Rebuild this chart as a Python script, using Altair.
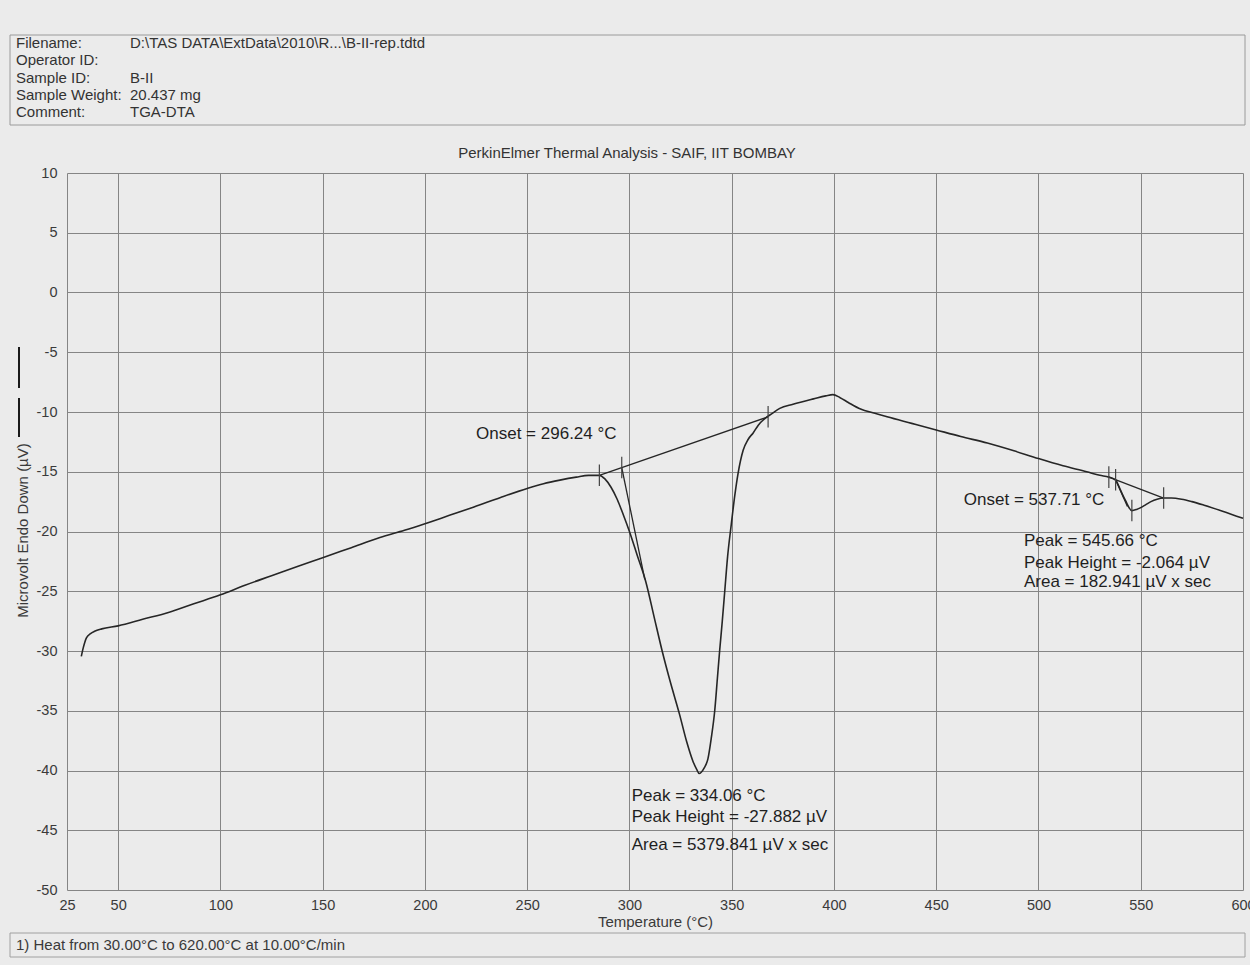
import altair as alt
import pandas as pd

FONT = "Liberation Sans"

# DTA trace: temperature (°C) vs heat-flow signal (µV)
temperature = [32, 33, 34.5, 36.5, 38.5, 42, 50, 62, 75, 87, 100, 112, 125, 138, 150,
               164, 178, 190, 200, 212, 224, 237, 250, 258, 266, 274, 280, 285.3, 288,
               291, 294, 297, 300, 304, 308, 312, 316, 320, 324.5, 328, 331, 333, 334.06,
               336.5, 338.4, 340, 341.7, 343, 344.1, 345.4, 346.6, 348, 349.8, 351.5,
               353.1, 355.6, 358, 360.5, 363, 366.2, 370, 373.5, 380, 390, 396, 399.5,
               403, 407, 413, 420, 426, 438, 450, 462, 475, 488, 500, 512, 523.6, 530,
               534.4, 537.7, 540, 542.5, 545.66, 548, 550, 552.5, 555, 558, 561, 565,
               570, 575, 581, 590, 600]
microvolt = [-30.45, -29.7, -28.9, -28.55, -28.35, -28.15, -27.9, -27.35, -26.75, -26.05,
             -25.3, -24.5, -23.7, -22.9, -22.2, -21.35, -20.5, -19.9, -19.35, -18.65,
             -17.95, -17.15, -16.4, -16.0, -15.7, -15.45, -15.3, -15.3, -15.6, -16.3,
             -17.3, -18.6, -20.0, -22.1, -24.2, -27.1, -30.0, -32.6, -35.3, -37.6, -39.2,
             -39.95, -40.25, -39.8, -39.0, -37.3, -35.0, -32.3, -30.0, -27.5, -25.0,
             -22.1, -19.4, -17.0, -15.15, -13.2, -12.3, -11.75, -11.1, -10.55, -10.1,
             -9.7, -9.35, -8.9, -8.65, -8.55, -8.8, -9.2, -9.75, -10.1, -10.4, -10.95,
             -11.5, -12.05, -12.6, -13.25, -13.9, -14.5, -15.0, -15.3, -15.45, -15.7,
             -16.5, -17.4, -18.25, -18.15, -18.0, -17.75, -17.5, -17.3, -17.2, -17.2,
             -17.3, -17.5, -17.8, -18.3, -18.9]

# integration baselines and onset tangents (start point -> end point)
seg_t1 = [285.3, 296.24, 534.4, 537.71]
seg_v1 = [-15.3, -14.65, -15.45, -15.67]
seg_t2 = [367.8, 307.5, 561.2, 543.5]
seg_v2 = [-10.4, -24.0, -17.2, -17.9]

# short vertical markers at limits, onsets and the small peak
tick_t = [285.3, 296.24, 367.8, 534.4, 537.71, 545.66, 561.2]
tick_v = [-15.3, -14.65, -10.4, -15.45, -15.67, -18.25, -17.2]

# result labels
ann_t = [225, 301.1, 301.1, 301.1, 463.5, 492.9, 492.9, 492.9]
ann_v = [-11.85, -42.15, -43.9, -46.2, -17.4, -20.8, -22.6, -24.25]
ann_text = ["Onset = 296.24 °C", "Peak = 334.06 °C", "Peak Height = -27.882 µV",
            "Area = 5379.841 µV x sec", "Onset = 537.71 °C", "Peak = 545.66 °C",
            "Peak Height = -2.064 µV", "Area = 182.941 µV x sec"]

x_ticks = [25, 50, 100, 150, 200, 250, 300, 350, 400, 450, 500, 550, 600]
y_ticks = list(range(-50, 11, 5))

header_labels = ["Filename:", "Operator ID:", "Sample ID:", "Sample Weight:", "Comment:"]
header_values = ["D:\\TAS DATA\\ExtData\\2010\\R...\\B-II-rep.tdtd", "", "B-II",
                 "20.437 mg", "TGA-DTA"]
chart_title = "PerkinElmer Thermal Analysis - SAIF, IIT BOMBAY"
method_note = "1)  Heat from 30.00°C to 620.00°C at 10.00°C/min"

W, H = 1176, 717
INK = "#262626"
GRID = "#858585"
TEXT = "#333333"

curve_df = pd.DataFrame({"T": temperature, "uV": microvolt})
seg_df = pd.DataFrame({"t1": seg_t1, "v1": seg_v1, "t2": seg_t2, "v2": seg_v2})
tick_df = pd.DataFrame({"T": tick_t, "uV": tick_v})
ann_df = pd.DataFrame({"T": ann_t, "uV": ann_v, "label": ann_text})
one = pd.DataFrame({"k": [0]})

x_scale = alt.Scale(domain=[25, 600], nice=False, zero=False)
y_scale = alt.Scale(domain=[-50, 10], nice=False, zero=False)

x_axis = alt.Axis(values=x_ticks, title="Temperature (°C)", grid=True, ticks=False,
                  domain=False, labelFlush=False, labelOverlap=False,
                  labelExpr="toString(datum.value)",
                  labelFont=FONT, labelFontSize=14.5, labelColor="#3a3a3a", labelPadding=8,
                  titleFont=FONT, titleFontSize=15, titleFontWeight="normal",
                  titleColor="#3a3a3a", titleY=31, titleBaseline="middle",
                  gridColor=GRID, gridWidth=1, gridOpacity=1)
y_axis = alt.Axis(values=y_ticks, title="Microvolt Endo Down (µV)", grid=True, ticks=False,
                  domain=False, labelFlush=False, labelOverlap=False,
                  labelExpr="toString(datum.value)",
                  labelFont=FONT, labelFontSize=14.5, labelColor="#3a3a3a", labelPadding=10,
                  titleFont=FONT, titleFontSize=15, titleFontWeight="normal",
                  titleColor="#3a3a3a", titleX=-45, titleY=357, titleAngle=270,
                  titleAlign="center", titleBaseline="middle",
                  gridColor=GRID, gridWidth=1, gridOpacity=1)

curve = alt.Chart(curve_df).mark_line(color=INK, strokeWidth=1.6, interpolate="monotone").encode(
    x=alt.X("T:Q", scale=x_scale, axis=x_axis),
    y=alt.Y("uV:Q", scale=y_scale, axis=y_axis),
)

segments = alt.Chart(seg_df).mark_rule(color=INK, strokeWidth=1.3).encode(
    x=alt.X("t1:Q", scale=x_scale), x2="t2:Q",
    y=alt.Y("v1:Q", scale=y_scale), y2="v2:Q",
)

ticks = alt.Chart(tick_df).transform_calculate(
    lo="datum.uV - 0.9", hi="datum.uV + 0.9"
).mark_rule(color="#444444", strokeWidth=1.2).encode(
    x=alt.X("T:Q", scale=x_scale),
    y=alt.Y("lo:Q", scale=y_scale), y2="hi:Q",
)

labels = alt.Chart(ann_df).mark_text(align="left", baseline="middle", font=FONT,
                                     fontSize=17, color="#1f1f1f").encode(
    x=alt.X("T:Q", scale=x_scale),
    y=alt.Y("uV:Q", scale=y_scale),
    text="label:N",
)

# information block above the plot, one text per row
header_box = alt.Chart(one).mark_rect(fillOpacity=0, stroke="#9a9a9a", strokeWidth=1).encode(
    x=alt.value(-57), x2=alt.value(1178), y=alt.value(-138), y2=alt.value(-48))
header_rows = []
for i, (lab, val) in enumerate(zip(header_labels, header_values)):
    row_y = -130 + i * 17.3
    header_rows.append(
        alt.Chart(one).mark_text(align="left", baseline="middle", font=FONT, fontSize=15,
                                 color=TEXT).encode(
            x=alt.value(-51), y=alt.value(row_y), text=alt.value(lab)))
    if val:
        header_rows.append(
            alt.Chart(one).mark_text(align="left", baseline="middle", font=FONT, fontSize=15,
                                     color=TEXT).encode(
                x=alt.value(63), y=alt.value(row_y), text=alt.value(val)))

title = alt.Chart(one).mark_text(align="center", baseline="middle", font=FONT, fontSize=15,
                                 color=TEXT).encode(
    x=alt.value(560), y=alt.value(-20), text=alt.value(chart_title))

# line sample beside the y-axis title
key_a = alt.Chart(one).mark_rule(color="#1a1a1a", strokeWidth=2).encode(
    x=alt.value(-48), y=alt.value(174), y2=alt.value(215))
key_b = alt.Chart(one).mark_rule(color="#1a1a1a", strokeWidth=2).encode(
    x=alt.value(-48), y=alt.value(225), y2=alt.value(264))

# method step below the plot
footer_box = alt.Chart(one).mark_rect(fillOpacity=0, stroke="#a0a0a0", strokeWidth=1).encode(
    x=alt.value(-57), x2=alt.value(1178), y=alt.value(760), y2=alt.value(784))
footer = alt.Chart(one).mark_text(align="left", baseline="middle", font=FONT, fontSize=15,
                                  color="#3a3a3a").encode(
    x=alt.value(-51), y=alt.value(772), text=alt.value(method_note))

chart = alt.layer(
    curve, segments, ticks, labels,
    header_box, *header_rows, title,
    key_a, key_b, footer_box, footer,
).properties(
    width=W, height=H,
    autosize="none",
    padding={"left": 67, "top": 173, "right": 7, "bottom": 75},
    background="#ebebeb",
).configure_view(strokeWidth=0)

chart.save("out.html", embed_options={"renderer": "svg", "actions": False})
